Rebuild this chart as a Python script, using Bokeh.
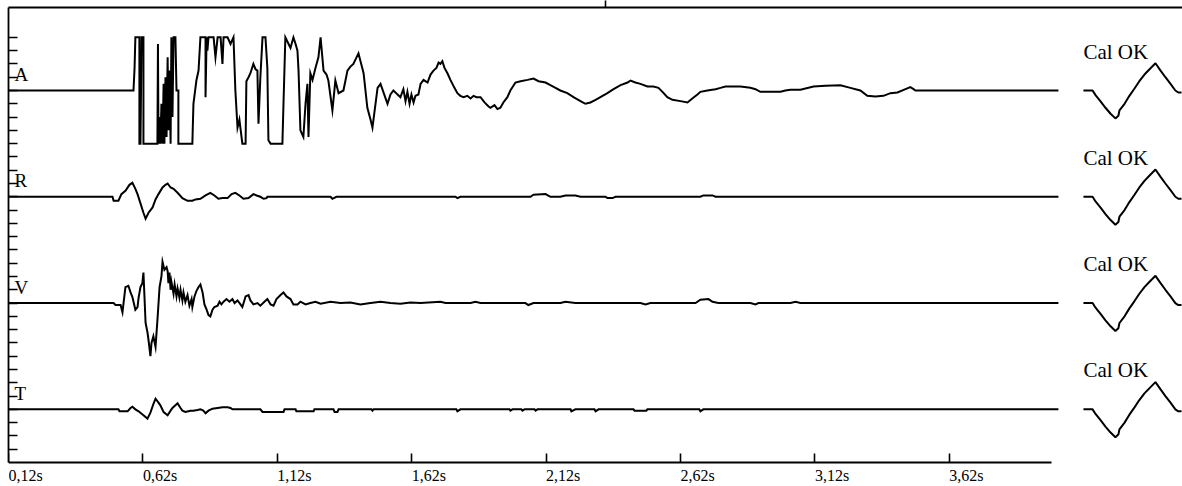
from bokeh.plotting import figure
from bokeh.models import ColumnDataSource, FixedTicker, Range1d, LinearAxis
from bokeh.core.properties import value
from bokeh.embed import file_html
from bokeh.resources import INLINE

# ---------------- data (time in s, amplitude in trace units) ----------------
channels = ["A", "R", "V", "T"]
cal_label = "Cal OK"
x_ticks = [0.12, 0.62, 1.12, 1.62, 2.12, 2.62, 3.12, 3.62]
x_tick_labels = ["0,12s", "0,62s", "1,12s", "1,62s", "2,12s", "2,62s", "3,12s", "3,62s"]
marker_t = [2.341]

a_t = [0.120, 0.585, 0.589, 0.592, 0.607, 0.607, 0.611, 0.615, 0.622, 0.622, 0.674, 0.676,
       0.678, 0.682, 0.685, 0.689, 0.693, 0.697, 0.700, 0.704, 0.708, 0.712, 0.715, 0.719,
       0.723, 0.726, 0.730, 0.734, 0.741, 0.745, 0.752, 0.752, 0.804, 0.808, 0.819, 0.827,
       0.834, 0.853, 0.853, 0.857, 0.860, 0.864, 0.883, 0.890, 0.898, 0.909, 0.916, 0.920,
       0.935, 0.946, 0.957, 0.964, 0.972, 0.979, 0.990, 1.002, 1.005, 1.013, 1.020, 1.031,
       1.039, 1.046, 1.050, 1.057, 1.065, 1.076, 1.083, 1.087, 1.095, 1.139, 1.143, 1.150,
       1.162, 1.169, 1.180, 1.188, 1.195, 1.199, 1.206, 1.217, 1.225, 1.232, 1.236, 1.243,
       1.251, 1.262, 1.273, 1.281, 1.292, 1.303, 1.310, 1.325, 1.336, 1.348, 1.366, 1.381,
       1.392, 1.403, 1.422, 1.441, 1.455, 1.467, 1.474, 1.493, 1.504, 1.530, 1.541, 1.552,
       1.578, 1.589, 1.597, 1.604, 1.612, 1.619, 1.627, 1.634, 1.645, 1.653, 1.664, 1.679,
       1.690, 1.701, 1.712, 1.720, 1.727, 1.734, 1.742, 1.753, 1.764, 1.779, 1.790, 1.801,
       1.813, 1.827, 1.839, 1.850, 1.861, 1.876, 1.891, 1.906, 1.913, 1.928, 1.939, 1.950,
       1.961, 1.976, 1.987, 2.006, 2.025, 2.051, 2.073, 2.092, 2.118, 2.136, 2.155, 2.173,
       2.199, 2.222, 2.248, 2.266, 2.285, 2.304, 2.322, 2.348, 2.371, 2.397, 2.423, 2.434,
       2.452, 2.471, 2.497, 2.519, 2.538, 2.553, 2.571, 2.590, 2.620, 2.646, 2.664, 2.683,
       2.694, 2.720, 2.750, 2.769, 2.787, 2.806, 2.843, 2.880, 2.899, 2.917, 2.955, 2.992,
       3.010, 3.029, 3.066, 3.115, 3.159, 3.215, 3.252, 3.289, 3.315, 3.345, 3.375, 3.401,
       3.427, 3.457, 3.475, 3.487, 3.494, 4.026]
a_v = [0.0, 0.0, 1.7, 4.0, 4.0, -4.0, -4.0, 4.0, 4.0, -4.0, -4.0, 3.5,
       -4.0, -2.0, -4.0, -1.0, -4.0, 0.5, -4.0, 1.0, -3.5, 2.5, -3.0, 1.5,
       -4.0, 4.0, -2.0, 4.0, 4.0, 0.0, 0.0, -4.0, -4.0, -1.0, 0.75, 1.5,
       4.0, 4.0, -0.5, 4.0, 3.0, 4.0, 4.0, 2.5, 4.0, 4.0, 2.0, 4.0,
       4.0, 3.5, 4.0, 0.0, -2.8, -2.2, -4.0, -4.0, 0.7, 1.0, 1.3, 2.0,
       1.6, 1.5, -2.5, 1.0, 4.0, 4.0, 1.7, -3.75, -4.0, -4.0, -1.0, 4.0,
       3.5, 3.2, 4.0, 3.5, 3.0, 1.5, -3.0, -3.5, -1.0, 0.5, -3.5, 1.3,
       0.8, 1.7, 2.5, 4.0, 1.5, 1.2, 0.75, -1.5, 0.75, -0.2, 0.0, 1.5,
       1.8, 2.0, 2.8, 1.3, -1.3, -2.2, -2.8, 0.2, 0.5, -1.0, -0.3, 0.0,
       -0.5, 0.1, -0.8, -0.1, -1.0, -0.3, -0.9, -0.4, -0.3, 0.5, 0.8, 0.6,
       1.2, 1.5, 1.7, 2.1, 2.0, 2.2, 1.7, 1.3, 0.8, 0.2, -0.2, -0.4,
       -0.5, -0.4, -0.6, -0.4, -0.5, -0.5, -0.9, -1.2, -1.3, -1.1, -1.4, -1.3,
       -0.9, -0.5, 0.0, 0.6, 0.7, 0.8, 0.9, 0.7, 0.6, 0.4, 0.2, 0.0,
       -0.2, -0.5, -0.8, -1.0, -0.9, -0.7, -0.5, -0.2, 0.1, 0.4, 0.6, 0.75,
       0.6, 0.5, 0.3, 0.3, 0.2, -0.1, -0.5, -0.7, -0.8, -0.9, -0.6, -0.3,
       -0.1, 0.0, 0.1, 0.2, 0.3, 0.3, 0.3, 0.2, 0.1, -0.1, -0.1, -0.1,
       0.0, 0.05, 0.05, 0.3, 0.35, 0.4, 0.2, 0.0, -0.4, -0.45, -0.4, -0.2,
       -0.15, 0.1, 0.25, 0.1, 0.0, 0.0]

r_t = [0.120, 0.507, 0.511, 0.529, 0.540, 0.555, 0.570, 0.581, 0.592, 0.600, 0.611, 0.622,
       0.630, 0.641, 0.656, 0.667, 0.678, 0.693, 0.704, 0.712, 0.723, 0.734, 0.749, 0.767,
       0.786, 0.804, 0.816, 0.834, 0.853, 0.871, 0.886, 0.901, 0.916, 0.935, 0.950, 0.964,
       0.979, 0.994, 1.013, 1.031, 1.043, 1.057, 1.069, 1.080, 1.083, 1.318, 1.325, 1.340,
       1.783, 1.790, 1.801, 2.062, 2.073, 2.118, 2.136, 2.173, 2.192, 2.229, 2.248, 2.341,
       2.348, 2.367, 2.378, 2.694, 2.705, 2.739, 2.750, 4.026]
r_v = [0.0, 0.0, -0.3, -0.3, 0.2, 0.45, 0.9, 1.05, 0.6, 0.2, -0.5, -1.2,
       -1.65, -1.2, -0.8, -0.2, 0.2, 0.7, 0.9, 1.0, 0.7, 0.6, 0.3, -0.1,
       -0.3, -0.3, -0.2, -0.15, 0.1, 0.3, 0.1, -0.15, -0.1, -0.1, 0.2, 0.3,
       0.1, -0.15, -0.1, 0.2, 0.1, 0.0, -0.15, -0.1, 0.0, 0.0, -0.15, 0.0,
       0.0, -0.1, 0.0, 0.0, 0.15, 0.2, 0.0, 0.0, 0.1, 0.1, 0.0, 0.0,
       -0.1, -0.1, 0.0, 0.0, 0.1, 0.1, 0.0, 0.0]

v_t = [0.120, 0.511, 0.518, 0.537, 0.544, 0.548, 0.555, 0.566, 0.574, 0.581, 0.592, 0.600,
       0.604, 0.611, 0.618, 0.622, 0.630, 0.637, 0.641, 0.648, 0.652, 0.659, 0.667, 0.674,
       0.682, 0.689, 0.693, 0.700, 0.708, 0.712, 0.715, 0.719, 0.723, 0.726, 0.734, 0.738,
       0.745, 0.749, 0.756, 0.760, 0.767, 0.771, 0.778, 0.786, 0.793, 0.801, 0.804, 0.812,
       0.819, 0.827, 0.834, 0.842, 0.849, 0.857, 0.864, 0.871, 0.879, 0.886, 0.898, 0.905,
       0.912, 0.920, 0.931, 0.942, 0.953, 0.961, 0.972, 0.983, 0.990, 1.002, 1.013, 1.020,
       1.031, 1.046, 1.057, 1.072, 1.083, 1.095, 1.106, 1.117, 1.132, 1.143, 1.154, 1.169,
       1.180, 1.195, 1.206, 1.225, 1.243, 1.262, 1.281, 1.318, 1.355, 1.392, 1.429, 1.467,
       1.504, 1.541, 1.578, 1.615, 1.653, 1.727, 1.746, 1.839, 1.857, 1.876, 2.043, 2.054,
       2.073, 2.173, 2.192, 2.229, 2.471, 2.490, 2.508, 2.676, 2.694, 2.724, 2.739, 2.761,
       2.880, 2.899, 2.910, 3.029, 3.048, 3.066, 4.026]
v_v = [0.0, 0.0, -0.15, -0.15, -0.7, 0.0, 1.2, 1.3, 0.8, 0.45, -0.5, -0.3,
       0.4, 1.2, 1.5, 2.3, -1.5, -2.2, -2.8, -4.0, -3.0, -2.5, -3.3, -1.3,
       1.2, 2.0, 3.1, 2.5, 2.7, 2.4, 1.5, 2.3, 1.0, 1.6, 0.7, 1.4,
       0.5, 1.1, 0.4, 1.0, 0.2, 0.8, 0.1, 0.6, -0.2, 0.3, -0.3, 0.5,
       0.9, 1.2, 1.4, 0.8, -0.1, -0.5, -0.9, -1.0, -0.5, -0.3, -0.2, 0.1,
       -0.1, 0.1, 0.3, 0.1, 0.3, 0.0, 0.2, -0.1, -0.3, 0.5, 0.6, 0.2,
       -0.1, 0.0, -0.2, 0.1, 0.3, -0.1, -0.2, 0.3, 0.6, 0.8, 0.5, 0.3,
       -0.1, -0.1, 0.1, -0.1, 0.0, 0.1, -0.05, 0.1, 0.0, 0.05, -0.1, 0.0,
       0.1, 0.0, -0.05, 0.05, 0.0, 0.1, 0.0, 0.0, 0.1, 0.0, 0.0, -0.15,
       0.0, 0.0, 0.1, 0.0, 0.0, -0.1, 0.0, 0.0, 0.25, 0.3, 0.1, 0.0,
       0.0, -0.1, 0.0, 0.0, 0.1, 0.0, 0.0]

t_t = [0.120, 0.529, 0.533, 0.563, 0.574, 0.581, 0.592, 0.604, 0.622, 0.637, 0.648, 0.659,
       0.667, 0.678, 0.685, 0.697, 0.712, 0.723, 0.730, 0.741, 0.749, 0.760, 0.767, 0.778,
       0.797, 0.808, 0.823, 0.834, 0.845, 0.853, 0.864, 0.879, 0.898, 0.916, 0.935, 0.946,
       0.953, 1.057, 1.065, 1.143, 1.147, 1.188, 1.191, 1.255, 1.258, 1.329, 1.333, 1.344,
       1.348, 1.470, 1.474, 1.478, 1.786, 1.790, 1.801, 1.984, 1.987, 1.995, 2.028, 2.032,
       2.040, 2.077, 2.081, 2.088, 2.211, 2.214, 2.229, 2.300, 2.304, 2.315, 2.445, 2.449,
       2.493, 2.497, 2.690, 2.694, 2.705, 4.026]
t_v = [0.0, 0.0, -0.15, -0.15, 0.1, 0.2, 0.0, -0.15, -0.45, -0.7, -0.25, 0.4,
       0.8, 0.5, 0.3, -0.2, -0.45, -0.1, 0.1, 0.3, 0.45, 0.1, -0.1, -0.2,
       -0.1, -0.1, -0.05, 0.0, -0.1, -0.3, -0.1, 0.05, 0.1, 0.15, 0.15, 0.1,
       0.0, 0.0, -0.2, -0.2, 0.0, 0.0, -0.15, -0.15, 0.0, 0.0, -0.2, -0.2,
       0.0, 0.0, -0.1, 0.0, 0.0, -0.15, 0.0, 0.0, -0.1, 0.0, 0.0, -0.1,
       0.0, 0.0, -0.1, 0.0, 0.0, -0.15, 0.0, 0.0, -0.15, 0.0, 0.0, -0.1,
       -0.1, 0.0, 0.0, -0.15, 0.0, 0.0]

cal_t = [4.119, 4.153, 4.164, 4.182, 4.201, 4.220, 4.238, 4.249, 4.253, 4.272, 4.290,
         4.309, 4.327, 4.346, 4.365, 4.387, 4.406, 4.424, 4.443, 4.461, 4.472, 4.484]
cal_v = [0.0, 0.0, -0.35, -0.8, -1.3, -1.75, -2.1, -1.9, -1.5, -1.0, -0.4,
         0.15, 0.7, 1.2, 1.6, 2.05, 1.5, 1.0, 0.5, 0.0, -0.15, -0.15]

traces = [(a_t, a_v), (r_t, r_v), (v_t, v_v), (t_t, t_v)]

# ---------------- layout ----------------
W, H = 1182, 486
LEFT, TOP = 8, 7
FRAME_W = W - LEFT
FRAME_H = H - TOP
PX_PER_S = 268.8
PPU = 13.285            # pixels per amplitude unit
SPACING = 8.0
Y1 = 83 / PPU
Y0 = Y1 - FRAME_H / PPU
AXIS_Y = -28.0
X0 = x_ticks[0]
X1 = X0 + FRAME_W / PX_PER_S
INK = "#000000"
SERIF = value("Liberation Serif")


def style_axis(ax, tick_in, tick_out):
    ax.major_tick_in = tick_in
    ax.major_tick_out = tick_out
    ax.minor_tick_line_color = None
    ax.axis_line_width = 1.8
    ax.major_tick_line_width = 1.6
    ax.axis_line_color = INK
    ax.major_tick_line_color = INK
    ax.major_label_text_color = None
    ax.major_label_text_font_size = "1px"
    ax.major_label_standoff = 0


p = figure(width=W, height=H, output_backend="svg", toolbar_location=None,
           x_range=Range1d(X0, X1), y_range=Range1d(Y0, Y1),
           x_axis_location=None, y_axis_location="left",
           min_border_left=LEFT, min_border_right=0, min_border_top=TOP,
           min_border_bottom=0)
p.grid.visible = False
p.outline_line_color = None
p.background_fill_color = "white"
p.border_fill_color = "white"

# bottom time axis (line stops at the end of the record)
xa = LinearAxis(fixed_location=AXIS_Y, ticker=FixedTicker(ticks=x_ticks))
xa.bounds = (X0, 4.0)
style_axis(xa, 9, 0)
p.add_layout(xa, "below")

# top border line with its single marker tick
ta = LinearAxis(ticker=FixedTicker(ticks=marker_t))
style_axis(ta, 0, 7)
p.add_layout(ta, "above")

ya = p.yaxis[0]
ya.ticker = FixedTicker(ticks=list(range(-27, 5)))
ya.bounds = (AXIS_Y, Y1)
style_axis(ya, 9, 0)

offsets = [-SPACING * i for i in range(len(channels))]

for (tt, vv), off in zip(traces, offsets):
    src = ColumnDataSource(dict(t=tt, y=[v + off for v in vv]))
    p.line("t", "y", source=src, line_color=INK, line_width=2.0, line_join="miter")
    csrc = ColumnDataSource(dict(t=cal_t, y=[v + off for v in cal_v]))
    p.line("t", "y", source=csrc, line_color=INK, line_width=2.0)

# channel letters
p.text(x=[X0] * len(channels), y=[off + 16 / PPU for off in offsets], text=channels,
       x_offset=6, text_font=SERIF, text_font_size="19px",
       text_color=INK, text_align="left", text_baseline="alphabetic")

# calibration labels
p.text(x=[cal_t[0]] * len(channels), y=[off + 39 / PPU for off in offsets],
       text=[cal_label] * len(channels), text_font=SERIF,
       text_font_size="21px", text_color=INK, text_align="left",
       text_baseline="alphabetic")

# time tick labels, left aligned at the tick
p.text(x=x_ticks, y=[AXIS_Y - 13 / PPU] * len(x_ticks), text=x_tick_labels,
       text_font=SERIF, text_font_size="16px", text_color=INK,
       text_align="left", text_baseline="alphabetic")

open("out.html", "w").write(file_html(p, INLINE))
